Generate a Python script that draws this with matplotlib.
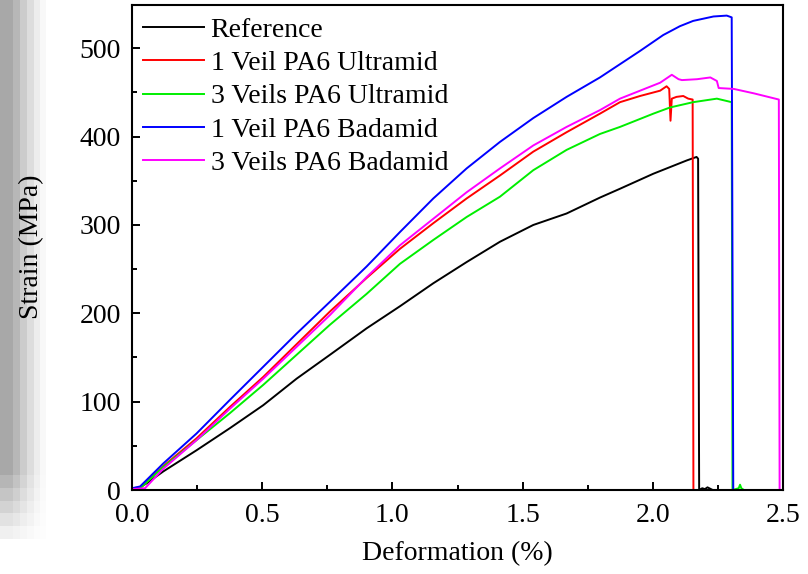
import numpy as np
import matplotlib
matplotlib.use("Agg")
import matplotlib.pyplot as plt
from matplotlib.ticker import MultipleLocator, FormatStrFormatter

plt.rcParams['font.family'] = ['Liberation Serif', 'DejaVu Serif']

# ---------------- data ----------------
labels = ["Reference", "1 Veil PA6 Ultramid", "3 Veils PA6 Ultramid",
          "1 Veil PA6 Badamid", "3 Veils PA6 Badamid"]
colors = ["#000000", "#ff0000", "#00ee00", "#0000ff", "#ff00ff"]

ref_x = [0.0, 0.018, 0.056, 0.120, 0.248, 0.376, 0.504, 0.632, 0.760, 0.901, 1.029,
         1.157, 1.285, 1.413, 1.541, 1.669, 1.797, 1.874, 2.002, 2.130, 2.168, 2.174,
         2.178, 2.19, 2.20, 2.21, 2.23]
ref_y = [1, 1, 7.5, 21, 45, 70, 96, 126, 153, 183, 208,
         234, 258, 281, 300, 313, 331, 341, 358, 373, 377, 375,
         0, 2, 1, 3, 0]

u1_x = [0.0, 0.035, 0.120, 0.248, 0.376, 0.504, 0.632, 0.760, 0.901, 1.029, 1.157,
        1.285, 1.413, 1.541, 1.669, 1.797, 1.874, 1.951, 2.028, 2.053, 2.063, 2.068,
        2.073, 2.091, 2.117, 2.136, 2.153, 2.156, 2.165]
u1_y = [2, 3, 27, 58.5, 94, 128, 165, 202, 240, 273, 302,
        330, 356, 383, 405, 426, 439, 446, 452, 457, 454, 418,
        443, 445, 446, 443, 442, 0, 0]

u3_x = [0.0, 0.035, 0.120, 0.248, 0.376, 0.504, 0.632, 0.760, 0.901, 1.029, 1.157,
        1.285, 1.413, 1.541, 1.669, 1.797, 1.874, 2.002, 2.066, 2.155, 2.246, 2.303,
        2.306, 2.33, 2.335, 2.34, 2.35]
u3_y = [2, 3, 26, 56.5, 87, 119, 153, 187, 222, 256, 283,
        309, 332, 362, 385, 403, 411, 426, 433, 439, 443, 439,
        0, 2, 6, 2, 0]

b1_x = [0.0, 0.031, 0.120, 0.248, 0.376, 0.504, 0.632, 0.760, 0.901, 1.029, 1.157,
        1.285, 1.413, 1.541, 1.669, 1.797, 1.874, 1.951, 2.040, 2.104, 2.155, 2.233,
        2.284, 2.303, 2.309, 2.315]
b1_y = [2, 4, 30, 64, 102, 139.5, 177, 213, 253, 292, 330,
        364, 394, 421, 445, 467, 482, 497, 515, 525, 531, 536,
        537, 535, 0, 0]

b3_x = [0.0, 0.05, 0.120, 0.248, 0.376, 0.504, 0.632, 0.760, 0.901, 1.029, 1.157,
        1.285, 1.413, 1.541, 1.669, 1.797, 1.874, 1.951, 2.028, 2.073, 2.099, 2.112,
        2.170, 2.221, 2.246, 2.253, 2.311, 2.388, 2.484, 2.487]
b3_y = [1, 2, 24, 56.5, 92, 126, 162, 198, 241, 277, 307,
        337, 364, 390, 411, 430, 443, 452, 461, 470, 465, 464,
        465, 467, 463, 455, 454, 449, 442, 0]

series_x = [ref_x, u1_x, u3_x, b1_x, b3_x]
series_y = [ref_y, u1_y, u3_y, b1_y, b3_y]

x_ticks = [0.0, 0.5, 1.0, 1.5, 2.0, 2.5]
y_ticks = [0, 100, 200, 300, 400, 500]

# ---------------- figure ----------------
W, H = 808, 574
fig = plt.figure(figsize=(W / 100, H / 100), dpi=100)
fig.patch.set_facecolor("white")

# grey shadow strip on the left edge (screenshot artefact)
bg = fig.add_axes([0, 0, 46 / W, 1])
bands = np.ones(46)
bands[:13] = 0.66
bands[13:20] = 0.72
bands[20:27] = 0.80
bands[27:34] = 0.87
bands[34:40] = 0.93
bands[40:46] = 0.975
yy = np.arange(H)
rows = np.clip((545 - yy) / (545 - 468), 0, 1)
rows = np.round(rows * 6) / 6
img = 1 - (1 - bands[None, :]) * rows[:, None]
bg.imshow(np.dstack([img, img, img]), aspect="auto", interpolation="nearest",
          extent=[0, 46, H, 0])
bg.set_axis_off()

ax = fig.add_axes([132 / W, 1 - 490 / H, (783 - 132) / W, (490 - 5) / H])
for xs, ys, c, lab in zip(series_x, series_y, colors, labels):
    ax.plot(xs, ys, color=c, lw=1.4, label=lab)

ax.set_xlim(0, 2.5)
ax.set_ylim(0, 549)
ax.set_xticks(x_ticks)
ax.set_yticks(y_ticks)
ax.xaxis.set_minor_locator(MultipleLocator(0.25))
ax.yaxis.set_minor_locator(MultipleLocator(50))
ax.xaxis.set_major_formatter(FormatStrFormatter("%.1f"))
ax.tick_params(which="both", direction="in", top=False, right=False,
               width=1.4, labelsize=20)
ax.tick_params(which="major", length=6)
ax.tick_params(which="minor", length=3.5)
ax.tick_params(axis="y", pad=8)
ax.tick_params(axis="x", pad=9)
for s in ax.spines.values():
    s.set_linewidth(1.5)

fig.text(32 / W, 1 - 247 / H, "Strain (MPa)", rotation=90, ha="center",
         va="center", fontsize=20)
fig.text(457 / W, 1 - 554 / H, "Deformation (%)", ha="center", va="center",
         fontsize=20)

ax.legend(loc="upper left", bbox_to_anchor=(0, 0.996), frameon=False, fontsize=20,
          borderaxespad=0.38, borderpad=0, handlelength=2.2, handletextpad=0.25,
          labelspacing=0.28)

fig.savefig("out.png", dpi=100)
